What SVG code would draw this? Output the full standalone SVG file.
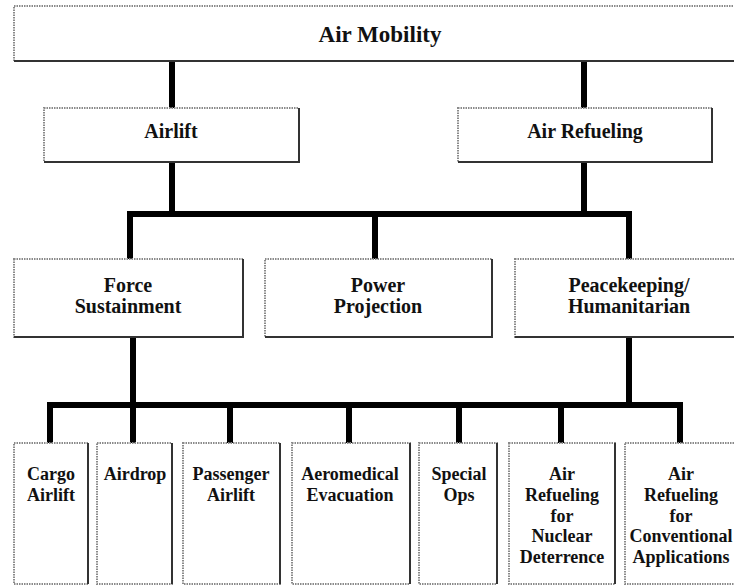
<svg xmlns="http://www.w3.org/2000/svg" width="734" height="585" viewBox="0 0 734 585">
<style>
.box{fill:#fff;stroke:#8a8a8a;stroke-width:2;stroke-dasharray:1.5 1}
.sh{fill:none;stroke:#333;stroke-width:2}
.conn{fill:none;stroke:#000;stroke-width:6;stroke-linejoin:miter;stroke-linecap:butt}
.lbl text{font-family:'Liberation Serif','DejaVu Serif',serif;font-weight:bold;fill:#111;text-anchor:middle}
.t1{font-size:23px}
.t2{font-size:20px}
.t3{font-size:18px}
</style>
<rect width="734" height="585" fill="#fff"/>
<g id="connectors">
<path class="conn" d="M172 61V108M584 61V108M172 162V214M584 162V214"/>
<path class="conn" d="M130 259V214H629V259M375 214V259"/>
<path class="conn" d="M133 337V405M629 337V405"/>
<path class="conn" d="M50 443V405H680V443M133 405V443M230 405V443M349 405V443M459 405V443M561 405V443"/>
</g>
<g class="lbl" font-family="Liberation Serif, serif">
<g id="air-mobility">
<rect class="box" x="14" y="6" width="740" height="55"/>
<path class="sh" d="M14 61H740"/>
<text class="t1" x="380" y="42">Air Mobility</text>
</g>
<g id="airlift">
<rect class="box" x="44" y="108" width="255" height="54"/>
<path class="sh" d="M44 162H299V108"/>
<text class="t2" x="171" y="138">Airlift</text>
</g>
<g id="air-refueling">
<rect class="box" x="458" y="108" width="254" height="54"/>
<path class="sh" d="M458 162H712V108"/>
<text class="t2" x="585" y="138">Air Refueling</text>
</g>
<g id="force-sustainment">
<rect class="box" x="14" y="259" width="229" height="78"/>
<path class="sh" d="M14 337H243V259"/>
<text class="t2" x="128" y="292">Force</text>
<text class="t2" x="128" y="313">Sustainment</text>
</g>
<g id="power-projection">
<rect class="box" x="265" y="259" width="227" height="78"/>
<path class="sh" d="M265 337H492V259"/>
<text class="t2" x="378" y="292">Power</text>
<text class="t2" x="378" y="313">Projection</text>
</g>
<g id="peacekeeping">
<rect class="box" x="515" y="259" width="230" height="78"/>
<path class="sh" d="M515 337H745"/>
<text class="t2" x="629" y="292">Peacekeeping/</text>
<text class="t2" x="629" y="313">Humanitarian</text>
</g>
<g id="cargo-airlift">
<rect class="box" x="14" y="443" width="74" height="141"/>
<path class="sh" d="M88 443V584"/>
<text class="t3" x="51" y="480">Cargo</text>
<text class="t3" x="51" y="501">Airlift</text>
</g>
<g id="airdrop">
<rect class="box" x="97" y="443" width="75" height="141"/>
<path class="sh" d="M172 443V584"/>
<text class="t3" x="135" y="480">Airdrop</text>
</g>
<g id="passenger-airlift">
<rect class="box" x="183" y="443" width="97" height="141"/>
<path class="sh" d="M280 443V584"/>
<text class="t3" x="231" y="480">Passenger</text>
<text class="t3" x="231" y="501">Airlift</text>
</g>
<g id="aeromedical-evacuation">
<rect class="box" x="292" y="443" width="118" height="141"/>
<path class="sh" d="M410 443V584"/>
<text class="t3" x="350" y="480">Aeromedical</text>
<text class="t3" x="350" y="501">Evacuation</text>
</g>
<g id="special-ops">
<rect class="box" x="419" y="443" width="78" height="141"/>
<path class="sh" d="M497 443V584"/>
<text class="t3" x="459" y="480">Special</text>
<text class="t3" x="459" y="501">Ops</text>
</g>
<g id="refueling-nuclear">
<rect class="box" x="509" y="443" width="106" height="141"/>
<path class="sh" d="M615 443V584"/>
<text class="t3" x="562" y="480">Air</text>
<text class="t3" x="562" y="501">Refueling</text>
<text class="t3" x="562" y="522">for</text>
<text class="t3" x="562" y="542">Nuclear</text>
<text class="t3" x="562" y="563">Deterrence</text>
</g>
<g id="refueling-conventional">
<rect class="box" x="625" y="443" width="120" height="141"/>
<text class="t3" x="681" y="480">Air</text>
<text class="t3" x="681" y="501">Refueling</text>
<text class="t3" x="681" y="522">for</text>
<text class="t3" x="681" y="542">Conventional</text>
<text class="t3" x="681" y="563">Applications</text>
</g>
</g>
</svg>
